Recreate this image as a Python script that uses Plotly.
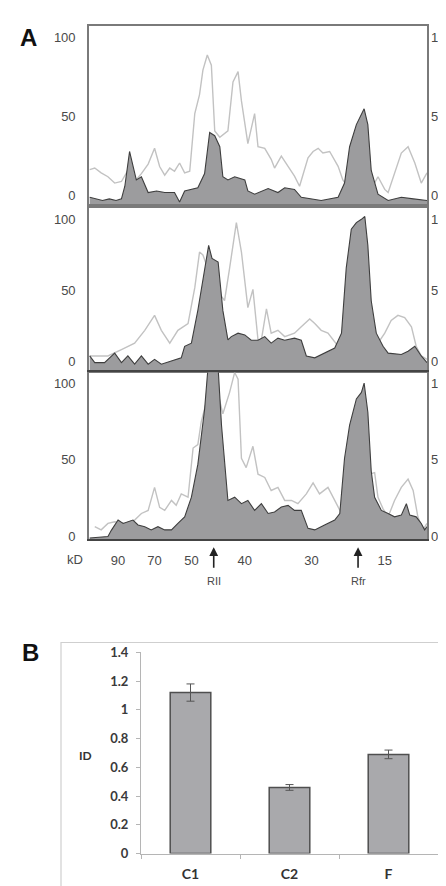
import plotly.graph_objects as go

# ---------------- Panel A data (lane position %, signal) ----------------
p1_dark_x = [0.2, 2, 4, 6, 8, 9.6, 10.6, 12.0, 14.0, 15.5, 17.5, 20, 22.4, 25.3, 26.8, 28.3, 32.2, 34.2, 35.7, 37.2,
             38.7, 39.6, 41.1, 43.1, 46.1, 47.0, 49.0, 53.0, 55.9, 57.9, 60.8, 62.8, 68.7, 73.7, 75.6, 77.1, 79.1,
             81.4, 82.5, 83.5, 85.5, 88.5, 92.4, 96, 100]
p1_dark_y = [-1, -2, -3, -2, -3, -2, 6, 28, 10, 12, 2, 3, 2, 2, -4, 3, 5, 14, 40, 38,
             31, 12, 10, 12, 10, 3, 1, 4.5, 2, 5, 4, -1, -3, -1, 8, 31, 45,
             55, 45, 16, 1, -3, -1, -2, -3]
p1_light_x = [0.2, 1.7, 3.6, 5.6, 7.6, 9.6, 11.5, 13.5, 15.5, 17.5, 19.4, 20.9, 22.4, 23.9, 25.3, 26.8, 28.3, 29.8,
              31.3, 32.7, 33.7, 35.0, 36.2, 37.2, 38.7, 41.1, 42.6, 44.1, 45.1, 47.0, 49.0, 50.0, 52.0, 53.9, 54.9,
              56.9, 58.9, 60.8, 62.3, 64.8, 66.3, 67.8, 69.2, 71.2, 73.7, 75.1, 76.1, 78, 82, 84.5, 85.5, 87.5, 88.5,
              90.4, 92.4, 94.4, 96.4, 98.3, 99.3, 100]
p1_light_y = [16.5, 17.5, 14.5, 12, 8, 9, 16, 9, 14, 20, 30, 18.5, 13, 17.5, 15.5, 20.7, 14.5, 15.5,
              52, 64, 79.5, 89, 82.6, 41, 37, 41, 72, 78.5, 60, 33, 52, 31, 30, 23, 17.5,
              25, 18.5, 12.4, 6, 24, 28, 30, 27, 28, 18.6, 10, 7, 5, 5, 8, 12, 4, 2,
              14.5, 27, 31, 20.7, 8, 12.4, 14.5]

p2_dark_x = [0.2, 1.7, 4.6, 7.6, 9.6, 11.5, 13.5, 15.5, 17.5, 19.4, 21.4, 24.4, 27.3, 28.3, 30.3, 32.2, 34.2, 35.4,
             36.4, 38.2, 39.6, 41.1, 42.1, 44.1, 46.1, 48.0, 50.0, 52.0, 53.9, 55.9, 57.9, 60.8, 62.8, 64.3, 66.8,
             69.7, 72.7, 74.7, 76.1, 77.6, 79.1, 80.6, 81.6, 82.5, 83.5, 85.0, 87.0, 88.5, 92.4, 94.4, 96.4, 98.3, 100]
p2_dark_y = [4, -0.7, -0.7, 6, -0.7, 4, -1.8, 4, -1.8, 1.6, -1.8, 0.5, 2.7, 10.8, 13, 36, 65.7, 81.7,
             72.5, 70, 36, 15.3, 17.6, 20, 18.8, 15, 15, 17.6, 13, 16.5, 15, 16.5, 15, 4, 2.7,
             6, 9.6, 20, 65.7, 93, 97.7, 100, 102, 81.7, 42.8, 20, 10.8, 6, 5, 7.3, 10.8, 4, -0.7]
p2_light_x = [0.2, 5.6, 9.6, 13.5, 16.5, 19.4, 21.4, 23.9, 26.3, 29.3, 31.3, 32.7, 33.7, 34.7, 36, 38, 40.1, 41.6,
              43.6, 45.1, 47.0, 48.5, 50.0, 51.0, 52.5, 53.9, 55.9, 57.9, 60.8, 62.8, 65.3, 66.8, 68.7, 70.7, 73.7,
              74.7, 78, 82, 85.5, 87.5, 89.4, 91.4, 93.4, 95.4, 96.8, 98.3, 100]
p2_light_y = [4, 4, 8.5, 13, 22, 32.5, 22, 13, 22, 26.8, 52, 77, 75, 69, 60, 50, 42.8, 65.7,
              97.7, 77, 38, 50.8, 15.3, 15.3, 37, 20, 22, 17.6, 20, 24.5, 30, 26.8, 22, 20, 10.8,
              15, 15, 15, 13, 20, 29, 32.5, 31, 24.5, 10.8, 4, 1.6]

p3_dark_x = [0.2, 5.6, 6.6, 8.6, 10.1, 11.5, 13.0, 14.5, 16.5, 18.4, 20.4, 22.4, 24.4, 26.3, 28.3, 30.3, 32.2, 34.2,
             35.2, 38.2, 39.2, 41.1, 43.1, 45.1, 47.0, 49.0, 51.0, 53.0, 54.9, 56.9, 58.9, 60.8, 62.8, 64.8, 66.8,
             69.7, 72.7, 74.2, 75.6, 77.1, 79.1, 80.6, 81.4, 82.5, 83.5, 84.5, 86.5, 88.5, 90.4, 92.4, 93.9, 94.9,
             96.8, 98.3, 99.3, 100]
p3_dark_y = [-1, 0, 4, 10.7, 8.5, 9.6, 10.7, 7.5, 6.4, 4.3, 6.4, 4.3, 4.3, 8.5, 12.8, 25.6, 47, 83,
             110, 110, 72.6, 23.5, 25.6, 21.4, 23.5, 17, 21.4, 15, 16, 19.2, 20.3, 17, 17, 5.3, 4.3,
             7.5, 10.7, 15, 51, 72.6, 89.7, 94, 100, 81, 42.7, 25.6, 17, 15, 12.8, 13.9, 21.4, 13.9,
             12.8, 8.5, 4.3, 6.4]
p3_light_x = [1.7, 3.6, 5.6, 7.6, 10.6, 13.5, 15.5, 17.5, 19.4, 20.9, 22.4, 24.4, 25.8, 27.3, 29.3, 30.8, 32.2, 33.2,
              35, 38, 39.6, 41.6, 43.1, 44.1, 45.1, 46.5, 48.5, 50.0, 52.0, 53.9, 55.9, 57.9, 59.9, 61.8, 64.3,
              66.3, 68.2, 70.7, 73.2, 74.7, 78, 82, 84.5, 85.5, 87.0, 88.5, 90.4, 92.4, 94.4, 95.9, 97.3, 98.8, 100]
p3_light_y = [6.4, 4.3, 8.5, 9.6, 8.5, 10.7, 15, 17, 32, 19, 17, 23.5, 20.3, 27.8, 25.6, 57.7, 60, 74.8,
              90, 95, 80, 94, 107, 102.6, 51, 44.9, 58.8, 40.6, 38.5, 30, 32, 23.5, 23.5, 21.4, 27.8,
              35, 27.8, 32, 21.4, 15, 30, 40, 41.7, 25.6, 18, 12.8, 23.5, 32, 37.4, 30, 12.8, 4.3, 8.5]

panel_ranges = [(-6.2, 107.5), (-6.9, 109.7), (-1.9, 107.0)]
left_ticks = [0, 50, 100]
right_ticks = [0, 5, 10]

kd_tickvals = [8.6, 19.4, 30.3, 46.1, 65.8, 87.5]
kd_ticktext = ["90", "70", "50", "40", "30", "15"]
marker_pos = [36.9, 79.6]
marker_names = ["RII", "Rfr"]

# ---------------- Panel B data ----------------
b_cats = ["C1", "C2", "F"]
b_vals = [1.12, 0.46, 0.69]
b_err = [0.06, 0.02, 0.03]
b_ticks = [0, 0.2, 0.4, 0.6, 0.8, 1, 1.2, 1.4]

W, H = 446, 886
def py(v):
    return 1 - v / H
def px(v):
    return v / W

DARK_FILL = "#9c9c9e"
DARK_LINE = "#3e3e3e"
LIGHT_LINE = "#c2c2c2"
FRAME = "#7a7a7a"
TXT = "#4a4a4a"
FONT = "Liberation Sans"

fig = go.Figure()

panels = [(p1_dark_x, p1_dark_y, p1_light_x, p1_light_y),
          (p2_dark_x, p2_dark_y, p2_light_x, p2_light_y),
          (p3_dark_x, p3_dark_y, p3_light_x, p3_light_y)]
ydomains = [(py(193), py(10)), (py(362), py(193)), (py(533), py(363))]
xdom = (px(81), px(419))

for i, (dx, dy, lx, ly) in enumerate(panels):
    xa = "x" if i == 0 else f"x{i+1}"
    ya = "y" if i == 0 else f"y{2*i+1}"
    ya_r = f"y{2*i+2}"
    lo, hi = panel_ranges[i]
    fig.add_trace(go.Scatter(x=lx, y=ly, mode="lines", line=dict(color=LIGHT_LINE, width=1.4),
                             xaxis=xa, yaxis=ya, hoverinfo="skip", showlegend=False))
    fig.add_trace(go.Scatter(x=dx, y=[lo] * len(dx), mode="lines", line=dict(width=0),
                             xaxis=xa, yaxis=ya, hoverinfo="skip", showlegend=False))
    fig.add_trace(go.Scatter(x=dx, y=dy, mode="lines", line=dict(color=DARK_LINE, width=1.1),
                             fill="tonexty", fillcolor=DARK_FILL,
                             xaxis=xa, yaxis=ya, hoverinfo="skip", showlegend=False))
    # right axis carrier (invisible)
    fig.add_trace(go.Scatter(x=[0, 100], y=[lo / 10, lo / 10], mode="lines", line=dict(width=0),
                             xaxis=xa, yaxis=ya_r, hoverinfo="skip", showlegend=False))

    xkey = "xaxis" if i == 0 else f"xaxis{i+1}"
    ykey = "yaxis" if i == 0 else f"yaxis{2*i+1}"
    yrkey = f"yaxis{2*i+2}"
    xcfg = dict(domain=list(xdom), range=[0, 100], anchor=ya, showgrid=False, zeroline=False,
                showline=True, linecolor=FRAME, linewidth=1.6, mirror=True, ticks="")
    if i == 2:
        xcfg.update(tickmode="array", tickvals=kd_tickvals, ticktext=kd_ticktext,
                    tickfont=dict(family=FONT, size=13, color=TXT), ticklabelstandoff=8,
                    linecolor="#444444", linewidth=2)
    else:
        xcfg.update(showticklabels=False)
    fig.layout[xkey] = xcfg
    fig.layout[ykey] = dict(domain=list(ydomains[i]), range=[lo, hi], anchor=xa, showgrid=False,
                            zeroline=False, showline=True, linecolor=FRAME, linewidth=1.6, mirror=True,
                            tickmode="array", tickvals=left_ticks, ticks="",
                            tickfont=dict(family=FONT, size=13, color=TXT), ticklabelstandoff=9)
    fig.layout[yrkey] = dict(overlaying=ya, side="right", anchor=xa, range=[lo / 10, hi / 10],
                             showgrid=False, zeroline=False, showline=False,
                             tickmode="array", tickvals=right_ticks, ticks="",
                             tickfont=dict(family=FONT, size=13, color=TXT), ticklabelstandoff=3)

# ---------------- Panel B ----------------
fig.add_trace(go.Bar(x=b_cats, y=b_vals, xaxis="x4", yaxis="y7", width=0.41,
                     marker=dict(color="#a9a9ac", line=dict(color="#4f4f4f", width=1.5)),
                     error_y=dict(type="data", array=b_err, color="#555555", thickness=1, width=4),
                     hoverinfo="skip", showlegend=False))
fig.layout["xaxis4"] = dict(domain=[px(133), px(430)], anchor="y7", showgrid=False, zeroline=False,
                            showline=True, linecolor="#b5b5b5", linewidth=1.2, ticks="outside",
                            tickson="boundaries", ticklen=4, tickcolor="#b5b5b5",
                            tickfont=dict(family="Lato", size=14, color="#333333", weight="bold"),
                            ticklabelstandoff=8)
fig.layout["yaxis7"] = dict(domain=[py(853), py(648)], range=[0, 1.4], anchor="x4", showgrid=False,
                            zeroline=False, showline=True, linecolor="#b5b5b5", linewidth=1.2,
                            ticks="outside", ticklen=4, tickcolor="#b5b5b5", tickmode="array",
                            tickvals=b_ticks, ticktext=[f"{t:g}" for t in b_ticks],
                            tickfont=dict(family="Lato", size=13, color="#3a3a3a", weight="bold"),
                            ticklabelstandoff=5)

shapes = [dict(type="rect", xref="paper", yref="paper", x0=px(53), x1=px(442), y0=-0.02, y1=py(638),
               line=dict(color="#cfcfcf", width=1.2), layer="below")]

annotations = [
    dict(text="<b>A</b>", xref="paper", yref="paper", x=px(20), y=py(22), showarrow=False,
         font=dict(family=FONT, size=24, color="#111111"), xanchor="center", yanchor="middle"),
    dict(text="<b>B</b>", xref="paper", yref="paper", x=px(22), y=py(648), showarrow=False,
         font=dict(family=FONT, size=24, color="#111111"), xanchor="center", yanchor="middle"),
    dict(text="kD", xref="paper", yref="paper", x=px(67), y=py(553), showarrow=False,
         font=dict(family=FONT, size=13, color=TXT), xanchor="center", yanchor="middle"),
    dict(text="<b>ID</b>", xref="paper", yref="paper", x=px(77), y=py(753), showarrow=False,
         font=dict(family="Lato", size=12, color="#333333"), xanchor="center", yanchor="middle"),
]
for pos, name in zip(marker_pos, marker_names):
    annotations.append(dict(text="", xref="x3", yref="paper", x=pos, y=py(541), ax=0, ay=22,
                            showarrow=True, arrowhead=2, arrowsize=1.1, arrowwidth=1.6,
                            arrowcolor="#222222"))
    annotations.append(dict(text=name, xref="x3", yref="paper", x=pos, y=py(575), showarrow=False,
                            font=dict(family=FONT, size=11, color=TXT), xanchor="center",
                            yanchor="middle"))

fig.update_layout(width=W, height=H, margin=dict(l=0, r=0, t=0, b=0), paper_bgcolor="white",
                  plot_bgcolor="white", shapes=shapes, annotations=annotations, showlegend=False,
                  barmode="group")

fig.write_html("out.html")
